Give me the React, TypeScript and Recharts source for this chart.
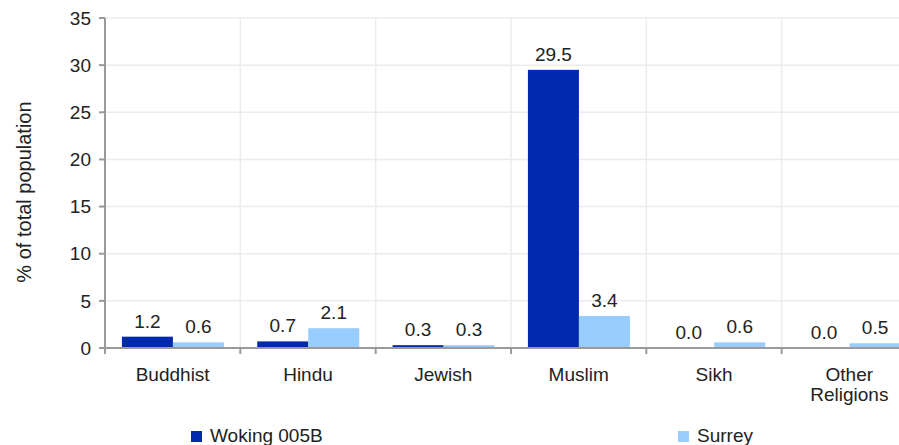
import { BarChart, Bar, XAxis, YAxis, CartesianGrid, Legend } from "recharts";

const categories = ["Buddhist", "Hindu", "Jewish", "Muslim", "Sikh", "Other Religions"];
const woking005B = [1.2, 0.7, 0.3, 29.5, 0.0, 0.0];
const surrey = [0.6, 2.1, 0.3, 3.4, 0.6, 0.5];
const yTicks = [0, 5, 10, 15, 20, 25, 30, 35];

const DARK = "#0029ad";
const LIGHT = "#99ccff";
const AXIS = "#9a9a9a";
const GRID = "#ececec";
const TEXT = "#222";
const FONT = 19;

const data = categories.map((name, i) => ({
	name,
	woking: woking005B[i],
	surrey: surrey[i],
}));

const legendItems = [
	{ label: "Woking 005B", color: DARK },
	{ label: "Surrey", color: LIGHT },
];

// category tick: label under the band, tick marks on the band edges
function CategoryTick(props: any) {
	const { x, y, payload, index, visibleTicksCount, width } = props;
	const half = payload.offset || width / visibleTicksCount / 2;
	const lines = payload.value.length > 10 ? payload.value.split(" ") : [payload.value];
	return (
		<g>
			<line x1={x - half} x2={x - half} y1={y} y2={y + 6} stroke={AXIS} strokeWidth={2} />
			{index === visibleTicksCount - 1 && (
				<line x1={x + half} x2={x + half} y1={y} y2={y + 6} stroke={AXIS} strokeWidth={2} />
			)}
			<text x={x} y={y + 33} textAnchor="middle" fill={TEXT} fontSize={FONT}>
				{lines.map((l: string, i: number) => (
					<tspan key={i} x={x} dy={i === 0 ? 0 : 20}>
						{l}
					</tspan>
				))}
			</text>
		</g>
	);
}

// bar with its value written above it (also for zero values)
function LabeledBar(props: any) {
	const { x, y, width, height, fill, value } = props;
	const v = Array.isArray(value) ? value[1] - value[0] : value;
	return (
		<g>
			{height > 0 && <rect x={x} y={y} width={width} height={height} fill={fill} />}
			<text x={x + width / 2} y={y - 9} textAnchor="middle" fill={TEXT} fontSize={FONT}>
				{Number(v).toFixed(1)}
			</text>
		</g>
	);
}

function YLabel(props: any) {
	const { viewBox } = props;
	const cx = 24;
	const cy = viewBox.y + viewBox.height / 2 + 9;
	return (
		<text
			x={cx}
			y={cy}
			transform={`rotate(-90, ${cx}, ${cy})`}
			textAnchor="middle"
			dominantBaseline="central"
			fill={TEXT}
			fontSize={20}>
			% of total population
		</text>
	);
}

export default function App() {
	return (
		<div
			style={{
				position: "fixed",
				left: 0,
				top: 0,
				width: 899,
				height: 445,
				overflow: "hidden",
				background: "#fff",
				fontFamily: "'Liberation Sans', Arial, sans-serif",
			}}>
			<BarChart
				width={920}
				height={446}
				data={data}
				margin={{ top: 18, right: 3, left: 0, bottom: 0 }}
				barCategoryGap="12.5%"
				barGap={0}>
				<CartesianGrid
					stroke={GRID}
					strokeWidth={1.5}
					verticalCoordinatesGenerator={({ offset }: any) =>
						categories.map((_, i) => offset.left + ((i + 1) * offset.width) / categories.length)
					}
				/>
				<XAxis
					dataKey="name"
					height={78}
					interval={0}
					tickSize={0}
					tickMargin={0}
					tickLine={false}
					axisLine={{ stroke: AXIS, strokeWidth: 2 }}
					tick={<CategoryTick />}
				/>
				<YAxis
					width={105}
					domain={[0, 35]}
					ticks={yTicks}
					interval={0}
					tickSize={6}
					tickMargin={8}
					tick={{ fill: TEXT, fontSize: FONT }}
					tickLine={{ stroke: AXIS, strokeWidth: 2 }}
					axisLine={{ stroke: AXIS, strokeWidth: 2 }}
					label={<YLabel />}
				/>
				<Legend
					verticalAlign="bottom"
					content={() => (
						<div
							style={{
								display: "flex",
								alignItems: "center",
								height: 20,
								paddingLeft: 191,
								fontSize: FONT,
								color: TEXT,
							}}>
							{legendItems.map((it, i) => (
								<div
									key={it.label}
									style={{
										display: "flex",
										alignItems: "center",
										width: i === 0 ? 487 : "auto",
									}}>
									<span
										style={{
											display: "inline-block",
											width: 11,
											height: 11,
											background: it.color,
											marginRight: 8,
										}}
									/>
									{it.label}
								</div>
							))}
						</div>
					)}
				/>
				<Bar
					dataKey="woking"
					name="Woking 005B"
					fill={DARK}
					isAnimationActive={false}
					shape={<LabeledBar />}
				/>
				<Bar
					dataKey="surrey"
					name="Surrey"
					fill={LIGHT}
					isAnimationActive={false}
					shape={<LabeledBar />}
				/>
			</BarChart>
		</div>
	);
}
